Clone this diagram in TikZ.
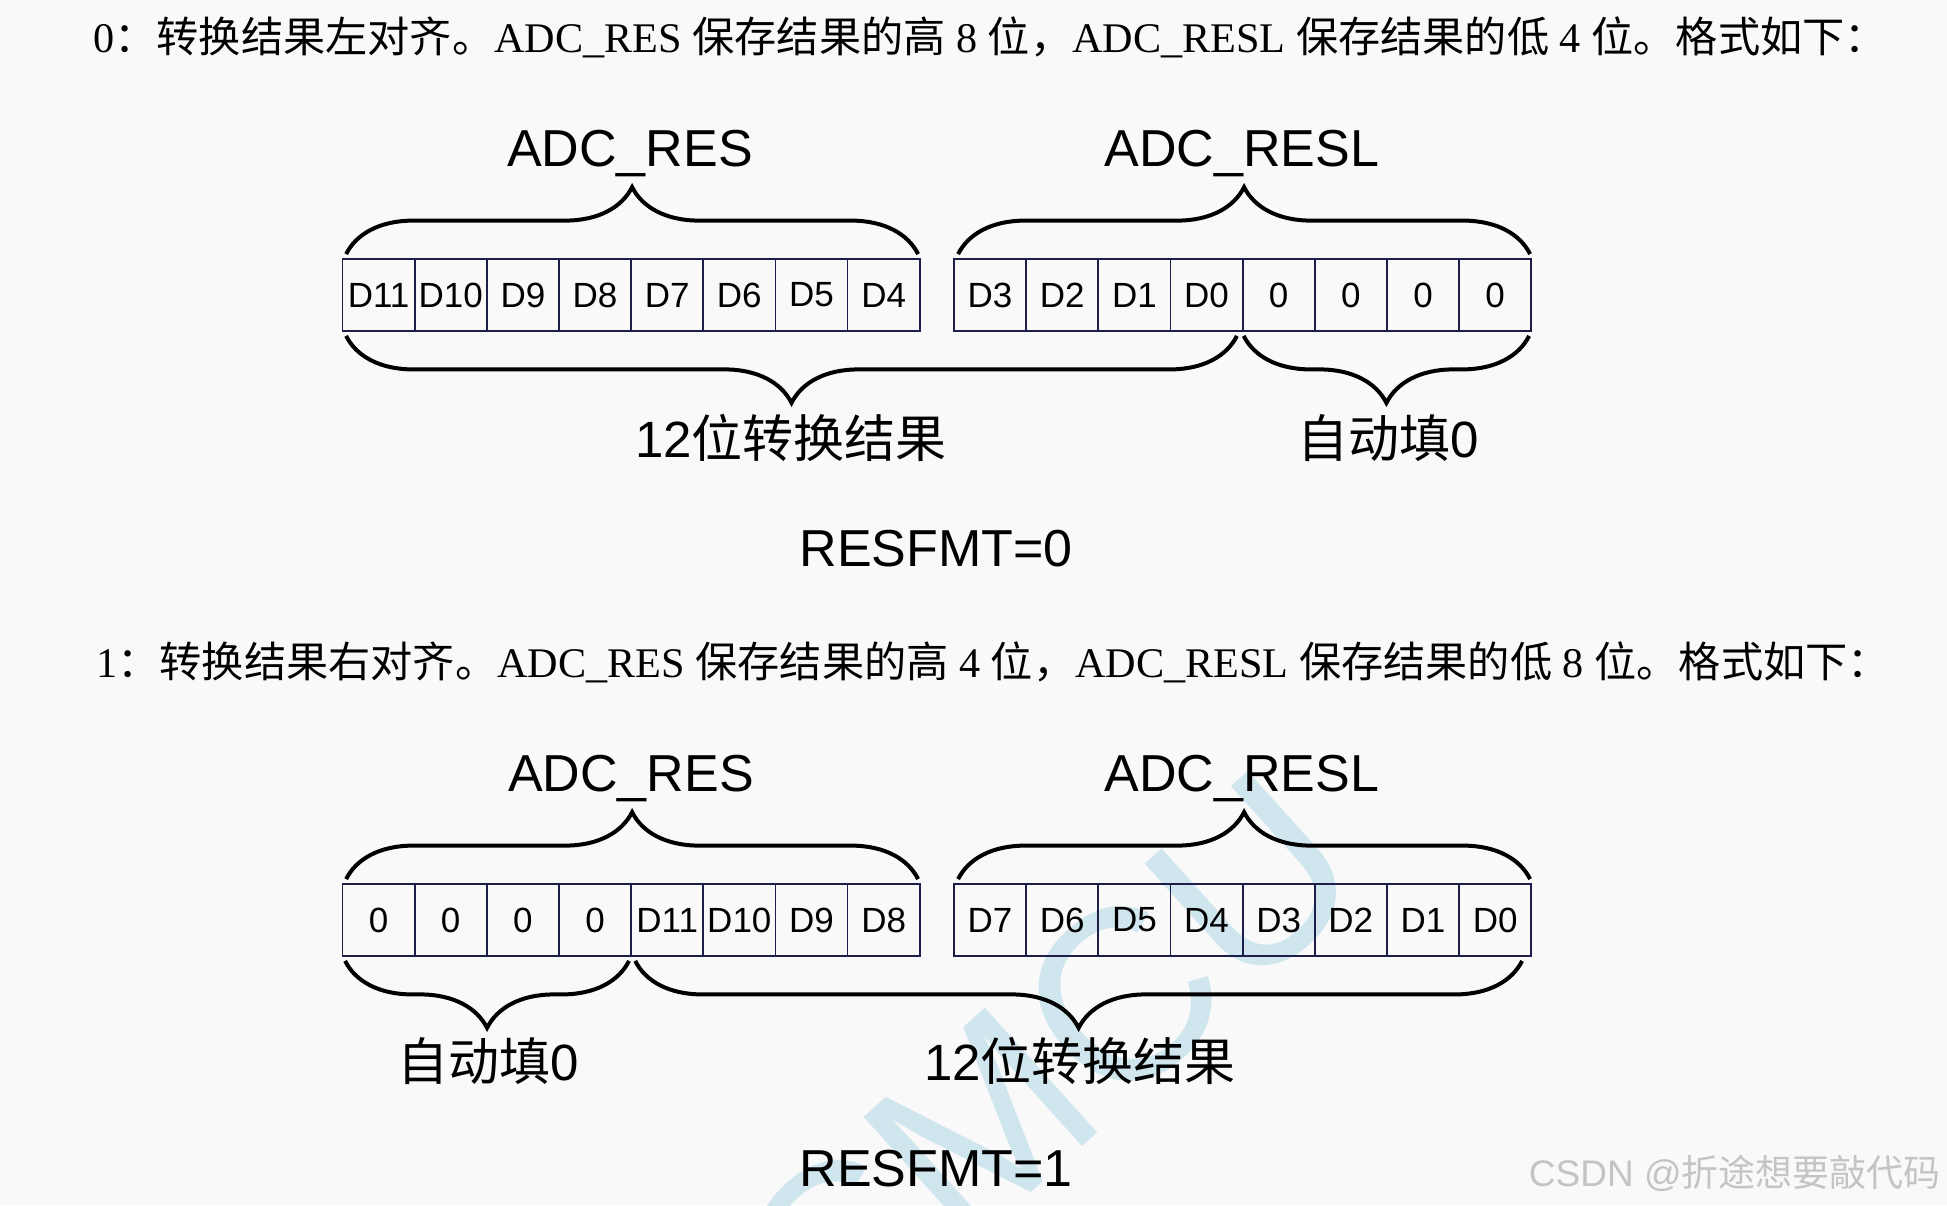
\documentclass[tikz,border=0pt]{standalone}
\usepackage{fontspec}
\setmainfont{Liberation Serif}
\newfontfamily\cjk{Noto Sans CJK SC}
\newfontfamily\arialf{Liberation Sans}
\usetikzlibrary{decorations.pathreplacing,calc}
\definecolor{bgc}{RGB}{249,249,249}
\definecolor{cellc}{RGB}{30,30,75}
\definecolor{wmc}{RGB}{208,230,239}
\definecolor{csdnc}{RGB}{196,196,196}
\begin{document}
\begin{tikzpicture}[x=0.5pt,y=-0.5pt,
  cellbox/.style={draw=cellc, line width=0.9pt, minimum width=36.075pt, minimum height=36pt, inner sep=0pt, font=\arialf\fontsize{17.5}{17.5}\selectfont},
  braceup/.style={decorate, decoration={brace, amplitude=33.5pt}, line width=2pt, draw=black},
  bracedown/.style={decorate, decoration={brace, amplitude=33.5pt, mirror}, line width=2pt, draw=black},
  reglabel/.style={font=\arialf\fontsize{26}{26}\selectfont, anchor=base, inner sep=0pt},
  heading/.style={font=\fontsize{21.1}{21.1}\selectfont, anchor=base west, inner sep=0pt},
  cjklabel/.style={font=\fontsize{25.5}{25.5}\selectfont, anchor=base, inner sep=0pt}
]
\useasboundingbox (0,0) rectangle (1947,1205);
\clip (0,0) rectangle (1947,1205);
\fill[bgc] (0,0) rectangle (1947,1205);

% watermark
\node[font=\arialf\fontsize{122}{122}\selectfont, text=wmc, rotate=42, inner sep=0pt] (wm) at (1046,1066) {CMCU};

% headings
\node[heading] (h0) at (93,52) {0{\cjk ：转换结果左对齐。}ADC\_RES {\cjk 保存结果的高} 8 {\cjk 位，}ADC\_RESL {\cjk 保存结果的低} 4 {\cjk 位。格式如下：}};
\node[heading] (h1) at (96,677) {1{\cjk ：转换结果右对齐。}ADC\_RES {\cjk 保存结果的高} 4 {\cjk 位，}ADC\_RESL {\cjk 保存结果的低} 8 {\cjk 位。格式如下：}};

% row 1 cells
\foreach \t [count=\i] in {D11,D10,D9,D8,D7,D6,D5,D4}
  \node[cellbox] (a\i) at ({342.5+72.15*(\i-0.5)},295) {\t};
\foreach \t [count=\i] in {D3,D2,D1,D0,0,0,0,0}
  \node[cellbox] (b\i) at ({954+72.15*(\i-0.5)},295) {\t};
% row 2 cells
\foreach \t [count=\i] in {0,0,0,0,D11,D10,D9,D8}
  \node[cellbox] (c\i) at ({342.5+72.15*(\i-0.5)},920) {\t};
\foreach \t [count=\i] in {D7,D6,D5,D4,D3,D2,D1,D0}
  \node[cellbox] (d\i) at ({954+72.15*(\i-0.5)},920) {\t};

% row 1 braces
\draw[braceup] ([xshift=2.25pt,yshift=2pt]a1.north west) -- ([xshift=-1.25pt,yshift=2pt]a8.north east);
\draw[braceup] ([xshift=2.5pt,yshift=2pt]b1.north west) -- ([xshift=-1pt,yshift=2pt]b8.north east);
\draw[bracedown] ([xshift=2.25pt,yshift=-2pt]a1.south west) -- ([xshift=-3.3pt,yshift=-2pt]b4.south east);
\draw[bracedown] ([xshift=1pt,yshift=-2pt]b5.south west) -- ([xshift=-1.5pt,yshift=-2pt]b8.south east);
% row 2 braces
\draw[braceup] ([xshift=2.25pt,yshift=2pt]c1.north west) -- ([xshift=-1.25pt,yshift=2pt]c8.north east);
\draw[braceup] ([xshift=2.5pt,yshift=2pt]d1.north west) -- ([xshift=-1pt,yshift=2pt]d8.north east);
\draw[bracedown] ([xshift=1.75pt,yshift=-2pt]c1.south west) -- ([xshift=-1.5pt,yshift=-2pt]c4.south east);
\draw[bracedown] ([xshift=2.5pt,yshift=-2pt]c5.south west) -- ([xshift=-5pt,yshift=-2pt]d8.south east);

% row 1 labels
\node[reglabel] (res0) at (630,166) {ADC\_RES};
\node[reglabel] (resl0) at (1242,166) {ADC\_RESL};
\node[cjklabel] (conv0) at (791,457) {{\arialf 12}{\cjk 位转换结果}};
\node[cjklabel] (fill0) at (1388,457) {{\cjk 自动填}{\arialf 0}};
\node[reglabel] (fmt0) at (936,566) {RESFMT=0};
% row 2 labels
\node[reglabel] (res1) at (631,791) {ADC\_RES};
\node[reglabel] (resl1) at (1242,791) {ADC\_RESL};
\node[cjklabel] (fill1) at (488,1080) {{\cjk 自动填}{\arialf 0}};
\node[cjklabel] (conv1) at (1080,1080) {{\arialf 12}{\cjk 位转换结果}};
\node[reglabel] (fmt1) at (936,1186) {RESFMT=1};

% CSDN mark
\node[font=\arialf\fontsize{18.5}{18.5}\selectfont, text=csdnc, anchor=base east, inner sep=0pt] (csdn) at (1941,1186) {CSDN @{\cjk 折途想要敲代码}};
\end{tikzpicture}
\end{document}
